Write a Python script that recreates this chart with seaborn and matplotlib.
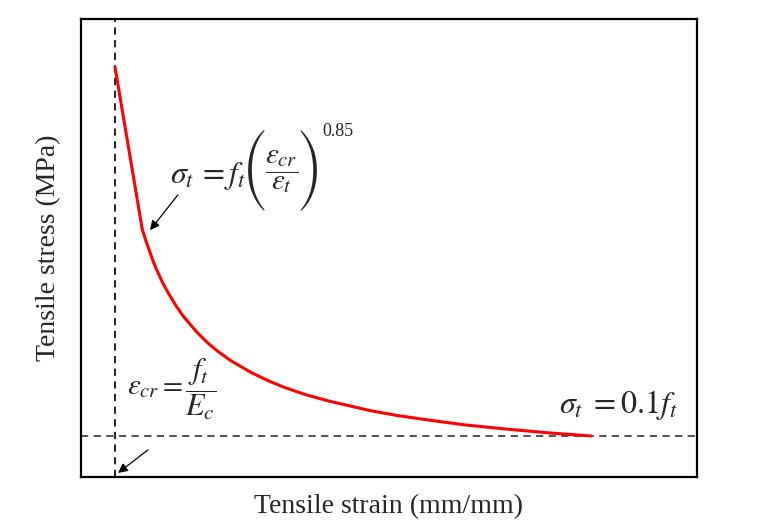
import matplotlib
matplotlib.use('Agg')
import matplotlib.pyplot as plt
import seaborn as sns
import pandas as pd

# values (strain in units of eps_cr, stress in units of f_t)
strain = [1.0, 1.8, 1.9, 2.0, 2.1, 2.2, 2.4, 2.6, 2.8, 3.0, 3.4, 3.7, 4.0, 4.4,
          5.0, 5.5, 6.0, 6.6, 7.3, 8.5, 9.3, 10.3, 11.3, 12.5, 13.7, 15.0]
stress = [1.0, 0.605, 0.578, 0.555, 0.531, 0.510, 0.474, 0.444, 0.417, 0.393,
          0.354, 0.329, 0.308, 0.284, 0.255, 0.235, 0.218, 0.201, 0.185, 0.162,
          0.150, 0.138, 0.127, 0.117, 0.108, 0.100]
eps_cr = 1.0
residual = 0.1

data = pd.DataFrame({'strain': strain, 'stress': stress})

sns.set_style('white')
plt.rcParams['font.family'] = ['Liberation Serif', 'DejaVu Serif']
plt.rcParams['mathtext.fontset'] = 'stix'

W, H = 769, 531
fig, ax = plt.subplots(figsize=(W / 100, H / 100), dpi=100)
fig.subplots_adjust(left=81/W, right=697/W, top=1-19/H, bottom=1-477/H)


def px(x, y):
    # pixel position in the picture -> figure fraction
    return x / W, 1 - y / H


ax.axvline(eps_cr, color='#111111', lw=1.3, ls=(0, (4, 3)))
ax.axhline(residual, color='#444444', lw=1.3, ls=(0, (4, 3)))
sns.lineplot(x='strain', y='stress', data=data, color='red', lw=2.2, ax=ax,
             sort=False)

ax.set_xlim(0, 18.12)
ax.set_ylim(0, 1.117)
ax.set_xticks([])
ax.set_yticks([])
for s in ax.spines.values():
    s.set_color('black')
    s.set_linewidth(1.6)

ax.set_xlabel('Tensile strain (mm/mm)', fontsize=20, labelpad=12)
ax.set_ylabel('Tensile stress (MPa)', fontsize=20, labelpad=14)

arrow = dict(arrowstyle='-|>', color='black', lw=0.9, mutation_scale=14,
             shrinkA=0, shrinkB=0)

# softening law
ax.annotate('', xy=(2.03, 0.602), xytext=(2.85, 0.688), arrowprops=arrow)
fig.text(*px(170, 171), r'$\sigma_t\,=f_t$', fontsize=23, ha='left', va='center_baseline')
fig.text(*px(254, 170), '(', family='STIXSizeThreeSym', fontsize=24, ha='center', va='center')
fig.text(*px(282, 172), r'$\dfrac{\varepsilon_{cr}}{\varepsilon_t}$', fontsize=21,
         ha='center', va='center')
fig.text(*px(310, 170), ')', family='STIXSizeThreeSym', fontsize=24, ha='center', va='center')
fig.text(*px(322, 132), '0.85', fontsize=13, ha='left', va='center')

# cracking strain
ax.annotate('', xy=(1.09, 0.01), xytext=(1.97, 0.066), arrowprops=arrow)
fig.text(*px(127, 384), r'$\varepsilon_{cr}=$', fontsize=21, ha='left', va='center_baseline')
fig.text(*px(201, 389), r'$\dfrac{f_t}{E_c}$', fontsize=22, ha='center', va='center')

# residual stress
fig.text(*px(678, 405), r'$\sigma_t\;=0.1f_t$', fontsize=23, ha='right', va='center')

plt.savefig('out.png', dpi=100)
